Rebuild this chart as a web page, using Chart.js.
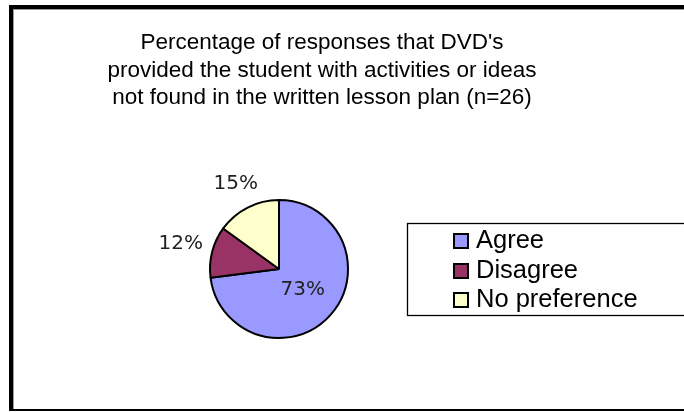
<!DOCTYPE html>
<html>
<head>
<meta charset="utf-8">
<script src="https://cdn.jsdelivr.net/npm/chart.js@4.4.1/dist/chart.umd.min.js"></script>
<style>
  html, body { margin: 0; padding: 0; background: #fff; overflow: hidden; }
  canvas { display: block; }
</style>
</head>
<body>
<canvas id="pie-chart" width="684" height="412"></canvas>
<script>
const titleLines = [
  "Percentage of responses that DVD's",
  "provided the student with activities or ideas",
  "not found in the written lesson plan (n=26)"
];
const categories = ["Agree", "Disagree", "No preference"];
const percentValues = [73, 12, 15];
const sliceColors = ["#9999ff", "#993366", "#ffffcc"];

const ctx = document.getElementById("pie-chart");

// white page with the heavy frame on top/left and thin line at the bottom
const framePlugin = {
  id: "frame",
  beforeDraw: (chart) => {
    const c = chart.ctx;
    c.save();
    c.fillStyle = "#fff";
    c.fillRect(0, 0, chart.width, chart.height);
    c.fillStyle = "#999";
    c.fillRect(13, 9, chart.width, 1);
    c.fillRect(13, 9, 1, 400);
    c.fillStyle = "#000";
    c.fillRect(9, 5, chart.width, 4);
    c.fillRect(9, 5, 4, 406);
    c.fillRect(9, 409, chart.width, 2);
    c.restore();
  }
};

const titlePlugin = {
  id: "titleLines",
  afterDraw: (chart) => {
    const c = chart.ctx;
    c.save();
    c.fillStyle = "#000";
    c.font = '22.5px "Liberation Sans", Arial, sans-serif';
    c.textAlign = "center";
    c.textBaseline = "alphabetic";
    titleLines.forEach((line, i) => {
      c.fillText(line, 322, 49 + i * 27.5);
    });
    c.restore();
  }
};

// percent labels: big slice inside, small ones just outside the pie
const sliceLabelPlugin = {
  id: "sliceLabels",
  afterDatasetsDraw: (chart) => {
    const c = chart.ctx;
    const meta = chart.getDatasetMeta(0);
    c.save();
    c.fillStyle = "#222";
    c.font = '20px "DejaVu Sans", Verdana, sans-serif';
    c.textAlign = "center";
    c.textBaseline = "middle";
    meta.data.forEach((arc, i) => {
      const p = arc.getProps(["x", "y", "startAngle", "endAngle", "outerRadius"], true);
      const mid = (p.startAngle + p.endAngle) / 2;
      const text = percentValues[i] + "%";
      let r;
      if (percentValues[i] >= 25) {
        r = p.outerRadius * 0.46;
      } else {
        const hw = c.measureText(text).width / 2;
        r = p.outerRadius + 9 + Math.abs(Math.cos(mid)) * hw + Math.abs(Math.sin(mid)) * 8;
      }
      c.fillText(text, p.x + Math.cos(mid) * r, p.y + Math.sin(mid) * r);
    });
    c.restore();
  }
};

const legendPlugin = {
  id: "boxLegend",
  afterDraw: (chart) => {
    const c = chart.ctx;
    c.save();
    c.strokeStyle = "#000";
    c.lineWidth = 1.3;
    c.strokeRect(407.5, 223.5, 320, 92);
    c.font = '25.5px "Liberation Sans", Arial, sans-serif';
    c.textAlign = "left";
    c.textBaseline = "alphabetic";
    const rows = [241, 271, 300];
    categories.forEach((name, i) => {
      const cy = rows[i];
      c.fillStyle = sliceColors[i];
      c.fillRect(454, cy - 7, 14, 14);
      c.lineWidth = 2;
      c.strokeRect(454, cy - 7, 14, 14);
      c.fillStyle = "#000";
      c.fillText(name, 476, cy + 7);
    });
    c.restore();
  }
};

const pieChart = new Chart(ctx, {
  type: "pie",
  data: {
    labels: categories,
    datasets: [{
      data: percentValues,
      backgroundColor: sliceColors,
      borderColor: "#000",
      borderWidth: 2,
      radius: 69
    }]
  },
  options: {
    responsive: false,
    animation: false,
    devicePixelRatio: 1,
    layout: {
      padding: { left: 150, right: 276, top: 180, bottom: 54 }
    },
    plugins: {
      legend: { display: false },
      title: { display: false },
      tooltip: { enabled: false }
    }
  },
  plugins: [framePlugin, titlePlugin, sliceLabelPlugin, legendPlugin]
});
</script>
</body>
</html>
